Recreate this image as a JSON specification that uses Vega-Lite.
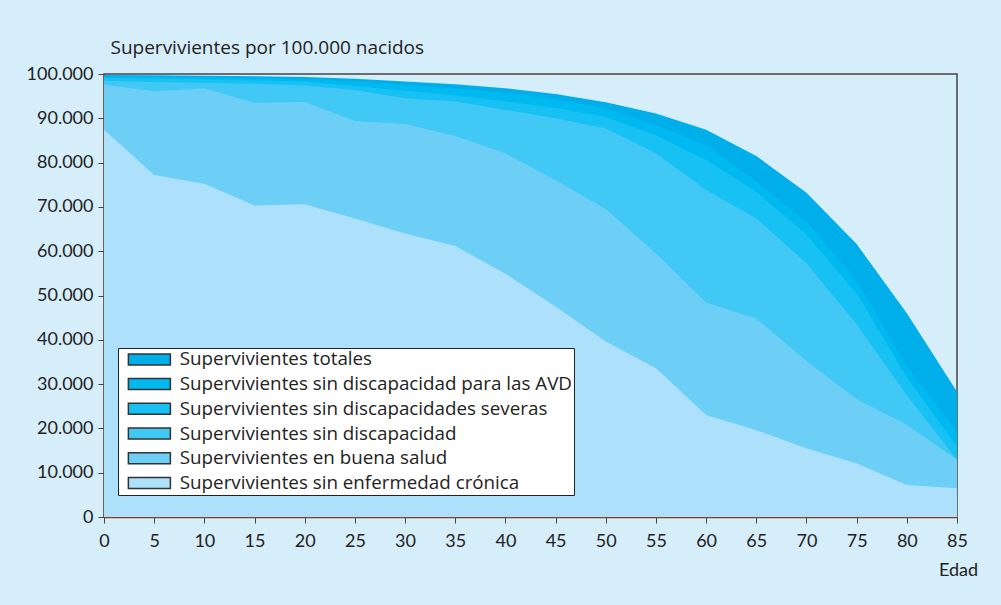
{
  "$schema": "https://vega.github.io/schema/vega-lite/v6.json",
  "width": 853,
  "height": 443,
  "autosize": "none",
  "padding": {"left": 104, "top": 74, "right": 44, "bottom": 88},
  "background": "#d6edfa",
  "config": {
    "font": "Lato",
    "locale": {"number": {"decimal": ",", "thousands": ".", "grouping": [3], "currency": ["", " €"]}},
    "view": {"stroke": "#444", "strokeWidth": 1.5},
    "axis": {"grid": false, "labelFont": "Lato", "titleFont": "Lato", "labelFontSize": 18, "labelColor": "#222", "titleColor": "#222", "tickColor": "#444", "tickSize": 6, "domainColor": "#8b3a1a", "domainWidth": 1.5, "titleFontWeight": "normal"}
  },
  "data": {
    "values": [
      {"edad": 0, "Supervivientes totales": 99800, "Supervivientes sin discapacidad para las AVD": 99500, "Supervivientes sin discapacidades severas": 99100, "Supervivientes sin discapacidad": 98500, "Supervivientes en buena salud": 97600, "Supervivientes sin enfermedad crónica": 87400},
      {"edad": 5, "Supervivientes totales": 99700, "Supervivientes sin discapacidad para las AVD": 99400, "Supervivientes sin discapacidades severas": 99000, "Supervivientes sin discapacidad": 98200, "Supervivientes en buena salud": 96100, "Supervivientes sin enfermedad crónica": 77200},
      {"edad": 10, "Supervivientes totales": 99600, "Supervivientes sin discapacidad para las AVD": 99300, "Supervivientes sin discapacidades severas": 98800, "Supervivientes sin discapacidad": 98000, "Supervivientes en buena salud": 96700, "Supervivientes sin enfermedad crónica": 75200},
      {"edad": 15, "Supervivientes totales": 99500, "Supervivientes sin discapacidad para las AVD": 99100, "Supervivientes sin discapacidades severas": 98600, "Supervivientes sin discapacidad": 97800, "Supervivientes en buena salud": 93500, "Supervivientes sin enfermedad crónica": 70300},
      {"edad": 20, "Supervivientes totales": 99300, "Supervivientes sin discapacidad para las AVD": 98900, "Supervivientes sin discapacidades severas": 98300, "Supervivientes sin discapacidad": 97400, "Supervivientes en buena salud": 93700, "Supervivientes sin enfermedad crónica": 70600},
      {"edad": 25, "Supervivientes totales": 98900, "Supervivientes sin discapacidad para las AVD": 98300, "Supervivientes sin discapacidades severas": 97300, "Supervivientes sin discapacidad": 96400, "Supervivientes en buena salud": 89400, "Supervivientes sin enfermedad crónica": 67400},
      {"edad": 30, "Supervivientes totales": 98300, "Supervivientes sin discapacidad para las AVD": 97600, "Supervivientes sin discapacidades severas": 96200, "Supervivientes sin discapacidad": 94500, "Supervivientes en buena salud": 88700, "Supervivientes sin enfermedad crónica": 64000},
      {"edad": 35, "Supervivientes totales": 97700, "Supervivientes sin discapacidad para las AVD": 96800, "Supervivientes sin discapacidades severas": 95200, "Supervivientes sin discapacidad": 93800, "Supervivientes en buena salud": 86000, "Supervivientes sin enfermedad crónica": 61200},
      {"edad": 40, "Supervivientes totales": 96800, "Supervivientes sin discapacidad para las AVD": 95700, "Supervivientes sin discapacidades severas": 93800, "Supervivientes sin discapacidad": 91900, "Supervivientes en buena salud": 82100, "Supervivientes sin enfermedad crónica": 54900},
      {"edad": 45, "Supervivientes totales": 95500, "Supervivientes sin discapacidad para las AVD": 94300, "Supervivientes sin discapacidades severas": 92300, "Supervivientes sin discapacidad": 90000, "Supervivientes en buena salud": 76000, "Supervivientes sin enfermedad crónica": 47500},
      {"edad": 50, "Supervivientes totales": 93600, "Supervivientes sin discapacidad para las AVD": 92200, "Supervivientes sin discapacidades severas": 90300, "Supervivientes sin discapacidad": 87700, "Supervivientes en buena salud": 69500, "Supervivientes sin enfermedad crónica": 39600},
      {"edad": 55, "Supervivientes totales": 91100, "Supervivientes sin discapacidad para las AVD": 88500, "Supervivientes sin discapacidades severas": 86200, "Supervivientes sin discapacidad": 82100, "Supervivientes en buena salud": 59500, "Supervivientes sin enfermedad crónica": 33600},
      {"edad": 60, "Supervivientes totales": 87400, "Supervivientes sin discapacidad para las AVD": 84000, "Supervivientes sin discapacidades severas": 80600, "Supervivientes sin discapacidad": 73800, "Supervivientes en buena salud": 48400, "Supervivientes sin enfermedad crónica": 23000},
      {"edad": 65, "Supervivientes totales": 81500, "Supervivientes sin discapacidad para las AVD": 75700, "Supervivientes sin discapacidades severas": 73400, "Supervivientes sin discapacidad": 67400, "Supervivientes en buena salud": 44800, "Supervivientes sin enfermedad crónica": 19600},
      {"edad": 70, "Supervivientes totales": 73200, "Supervivientes sin discapacidad para las AVD": 66700, "Supervivientes sin discapacidades severas": 63700, "Supervivientes sin discapacidad": 57300, "Supervivientes en buena salud": 35200, "Supervivientes sin enfermedad crónica": 15500},
      {"edad": 75, "Supervivientes totales": 61600, "Supervivientes sin discapacidad para las AVD": 53500, "Supervivientes sin discapacidades severas": 50500, "Supervivientes sin discapacidad": 43500, "Supervivientes en buena salud": 26600, "Supervivientes sin enfermedad crónica": 12100},
      {"edad": 80, "Supervivientes totales": 46000, "Supervivientes sin discapacidad para las AVD": 34000, "Supervivientes sin discapacidades severas": 31500, "Supervivientes sin discapacidad": 27500, "Supervivientes en buena salud": 20800, "Supervivientes sin enfermedad crónica": 7200},
      {"edad": 85, "Supervivientes totales": 28300, "Supervivientes sin discapacidad para las AVD": 19300, "Supervivientes sin discapacidades severas": 15900, "Supervivientes sin discapacidad": 12900, "Supervivientes en buena salud": 12900, "Supervivientes sin enfermedad crónica": 6500}
    ]
  },
  "transform": [
    {"fold": ["Supervivientes totales", "Supervivientes sin discapacidad para las AVD", "Supervivientes sin discapacidades severas", "Supervivientes sin discapacidad", "Supervivientes en buena salud", "Supervivientes sin enfermedad crónica"], "as": ["serie", "valor"]}
  ],
  "encoding": {
    "x": {"field": "edad", "type": "quantitative", "scale": {"domain": [0, 85], "nice": false},
      "axis": {"values": [0,5,10,15,20,25,30,35,40,45,50,55,60,65,70,75,80,85], "title": "Edad", "titleFontSize": 18, "titleAnchor": null, "titleAlign": "center", "titleX": 854, "titleY": 58, "titleBaseline": "alphabetic", "labelPadding": 9, "labelFlush": false}},
    "y": {"field": "valor", "type": "quantitative", "stack": null, "scale": {"domain": [0, 100000], "nice": false},
      "axis": {"values": [0,10000,20000,30000,40000,50000,60000,70000,80000,90000,100000], "format": ",d", "title": "Supervivientes por 100.000 nacidos", "titleFont": "Open Sans", "titleAngle": 0, "titleAlign": "left", "titleAnchor": null, "titleBaseline": "alphabetic", "titleX": 6, "titleY": -21, "titleFontSize": 19, "labelPadding": 5}},
    "color": {"field": "serie", "type": "nominal",
      "scale": {"domain": ["Supervivientes totales", "Supervivientes sin discapacidad para las AVD", "Supervivientes sin discapacidades severas", "Supervivientes sin discapacidad", "Supervivientes en buena salud", "Supervivientes sin enfermedad crónica"],
        "range": ["#00aeea", "#00b9f0", "#17c1f3", "#42c8f4", "#6dcff5", "#ade0fa"]},
      "legend": {"orient": "none", "legendX": 14, "legendY": 274, "title": null, "fillColor": "white", "strokeColor": "#222", "padding": 2, "symbolType": "M-0.17,-0.92H6.83V0.92H-0.17Z", "symbolSize": 144, "symbolStrokeColor": "#333", "symbolStrokeWidth": 1.5, "symbolOpacity": 1, "labelFont": "Open Sans", "labelFontSize": 18.8, "labelColor": "#222", "labelOffset": 41, "rowPadding": 4.7, "labelLimit": 500}}
  },
  "layer": [
    {"transform": [{"filter": "datum.serie === 'Supervivientes totales'"}], "mark": {"type": "area", "opacity": 1}},
    {"transform": [{"filter": "datum.serie === 'Supervivientes sin discapacidad para las AVD'"}], "mark": {"type": "area", "opacity": 1}},
    {"transform": [{"filter": "datum.serie === 'Supervivientes sin discapacidades severas'"}], "mark": {"type": "area", "opacity": 1}},
    {"transform": [{"filter": "datum.serie === 'Supervivientes sin discapacidad'"}], "mark": {"type": "area", "opacity": 1}},
    {"transform": [{"filter": "datum.serie === 'Supervivientes en buena salud'"}], "mark": {"type": "area", "opacity": 1}},
    {"transform": [{"filter": "datum.serie === 'Supervivientes sin enfermedad crónica'"}], "mark": {"type": "area", "opacity": 1}}
  ]
}
